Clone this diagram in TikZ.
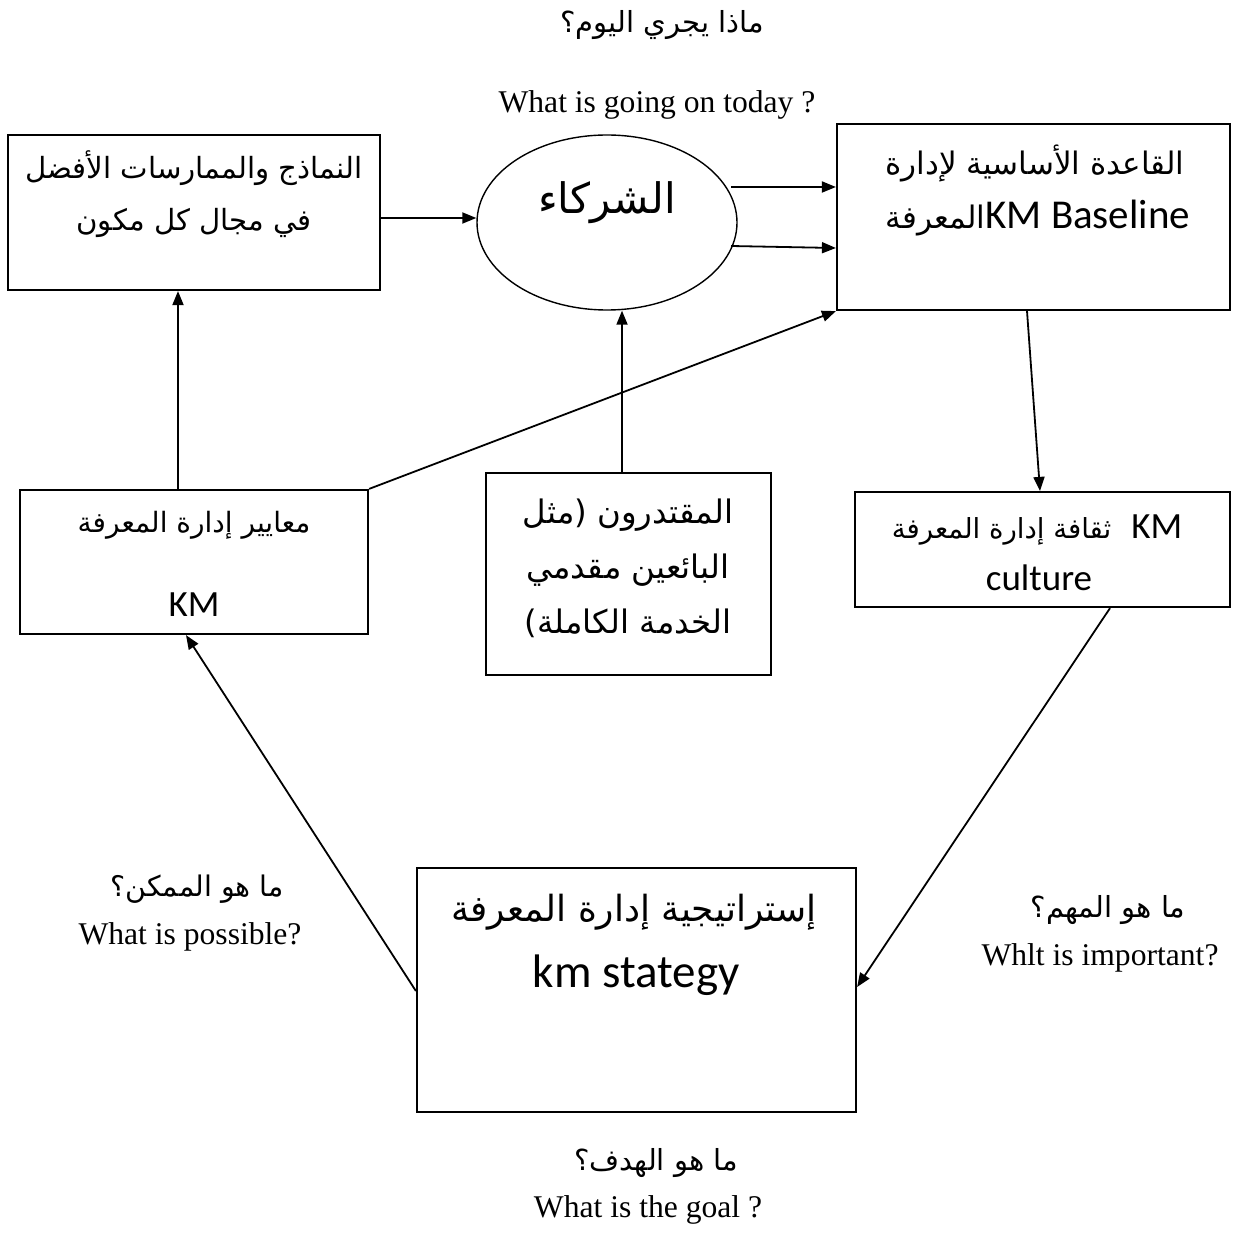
\documentclass[tikz,border=0pt]{standalone}
\usepackage{fontspec}
\setmainfont{Liberation Serif}
\newfontfamily\arabicfont[Script=Arabic]{DejaVu Sans}
\newfontfamily\calfont{Carlito}
\TeXXeTstate=1
\usetikzlibrary{arrows.meta,shapes.geometric}

% right-to-left Arabic run
\newcommand{\artxt}[1]{{\arabicfont\beginR #1\endR}}
\newcommand{\fsz}[2]{\fontsize{#1pt}{#2pt}\selectfont}

\begin{document}
\begin{tikzpicture}[x=0.5pt,y=-0.5pt,
  box/.style={draw, line width=1.1pt, inner sep=0pt, rectangle},
  oval/.style={draw, line width=0.7pt, inner sep=0pt, ellipse},
  arr/.style={-{Triangle[length=7pt,width=5.5pt]}, line width=0.9pt},
  txt/.style={inner sep=0pt, align=center},
  eng/.style={txt, font=\fsz{15.8}{18}},
]
\useasboundingbox (0,0) rectangle (1232,1240);
\fill[white] (0,0) rectangle (1232,1240);

% boxes and the partners ellipse
\node[box, minimum width=186pt, minimum height=77.5pt] (b1) at (194,212.5) {};
\node[oval, minimum width=130pt, minimum height=87.5pt] (el) at (607,222.5) {};
\node[box, minimum width=196.5pt, minimum height=93pt] (b2) at (1033.5,217) {};
\node[box, minimum width=174pt, minimum height=72pt] (b4) at (194,562) {};
\node[box, minimum width=142.5pt, minimum height=101pt] (b5) at (628.5,574) {};
\node[box, minimum width=187.5pt, minimum height=57.5pt] (b6) at (1042.5,549.5) {};
\node[box, minimum width=219.5pt, minimum height=122pt] (b7) at (636.5,990) {};

% texts inside the shapes
\node[txt, font={\fsz{14.6}{26}}] (t1) at (194,194)
  {\artxt{النماذج والممارسات الأفضل}\\\artxt{في مجال كل مكون}};
\node[txt, font={\fsz{21}{25}}] (tel) at (607,203) {\artxt{الشركاء}};
\node[txt, font={\fsz{15.5}{18}}] (t2a) at (1035,163) {\artxt{القاعدة الأساسية لإدارة}};
\node[txt] (t2b) at (1038,218)
  {{\fsz{15.5}{18}\artxt{المعرفة}}{\calfont\fsz{20.5}{24}KM Baseline}};
\node[txt, font={\fsz{14}{18}}] (t4a) at (194,525) {\artxt{معايير إدارة المعرفة}};
\node[txt, font={\calfont\fsz{18.5}{22}}] (t4b) at (194,605) {KM};
\node[txt, font={\fsz{16.2}{27.5}}] (t5) at (628,568)
  {\artxt{المقتدرون (مثل}\\\artxt{البائعين مقدمي}\\\artxt{الخدمة الكاملة)}};
\node[txt] (t6a) at (1037,530)
  {{\fsz{13.8}{18}\artxt{ثقافة إدارة المعرفة}}\hspace{10pt}{\calfont\fsz{18.5}{22}KM}};
\node[txt, font={\calfont\fsz{18.5}{22}}] (t6b) at (1039,578) {culture};
\node[txt, font={\fsz{18}{22}}] (t7a) at (634,912) {\artxt{إستراتيجية إدارة المعرفة}};
\node[txt, font={\calfont\fsz{23.5}{28}}] (t7b) at (636,975) {km stategy};

% question labels
\node[txt, font={\fsz{14.5}{18}}] (q1a) at (662,25) {\artxt{ماذا يجري اليوم؟}};
\node[eng] (q1b) at (657,105) {What is going on today ?};
\node[txt, font={\fsz{14.2}{18}}] (q2a) at (197,889) {\artxt{ما هو الممكن؟}};
\node[eng] (q2b) at (190,937) {What is possible?};
\node[txt, font={\fsz{14.5}{18}}] (q3a) at (1108,910) {\artxt{ما هو المهم؟}};
\node[eng] (q3b) at (1100,958) {Whlt is important?};
\node[txt, font={\fsz{14.5}{18}}] (q4a) at (656,1163) {\artxt{ما هو الهدف؟}};
\node[eng] (q4b) at (648,1210) {What is the goal ?};

% connectors
\coordinate (e1) at (731,187);
\coordinate (e2) at (731,246);
\draw[arr] (b1.east |- 0,218) -- (el.west |- 0,218);
\draw[arr] (e1) -- (b2.west |- e1);
\draw[arr] (e2) -- (b2.west |- 0,248);
\draw[arr] (178,0 |- b4.north) -- (178,0 |- b1.south);
\draw[arr] (622,0 |- b5.north) -- (622,0 |- el.south);
\draw[arr] (b4.north east) -- (b2.south west);
\draw[arr] (1027,0 |- b2.south) -- (1040,0 |- b6.north);
\draw[arr] (1110,0 |- b6.south) -- (b7.east |- 0,987);
\draw[arr] (b7.west |- 0,991) -- (186,0 |- b4.south);
\end{tikzpicture}
\end{document}
